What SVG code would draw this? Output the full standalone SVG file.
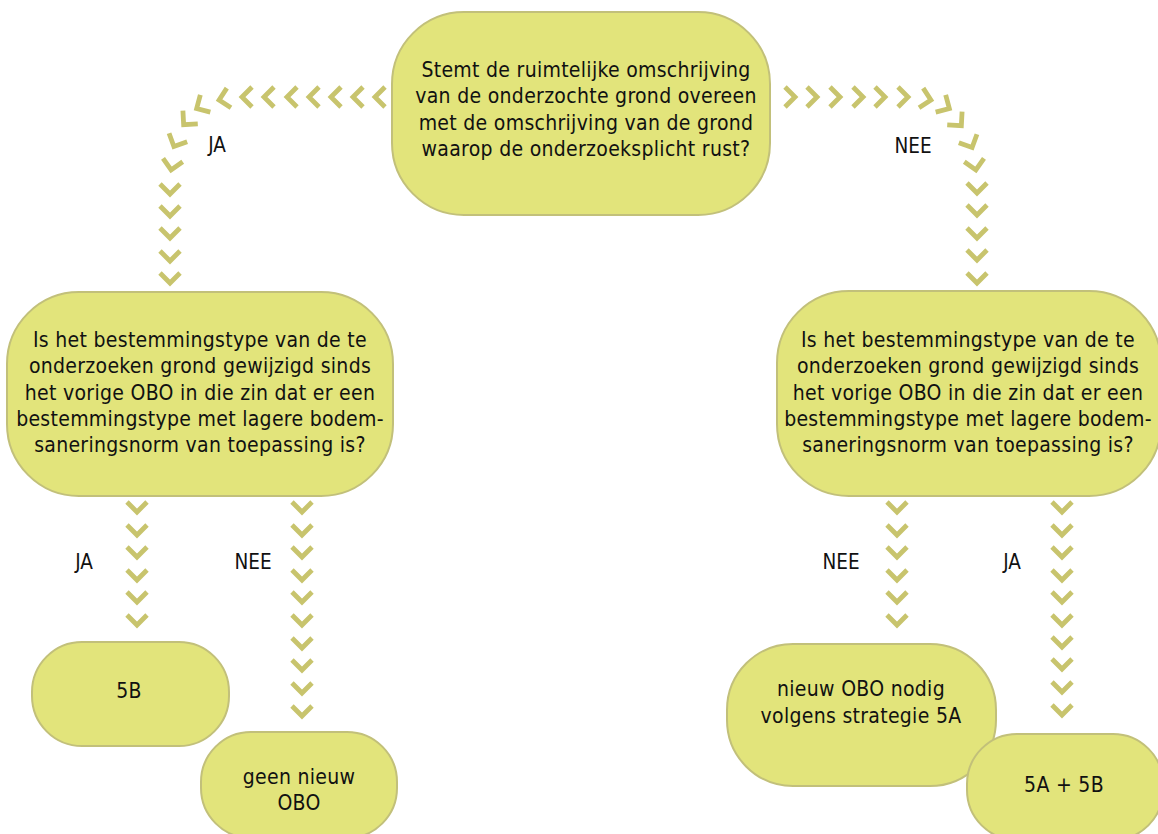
<svg xmlns="http://www.w3.org/2000/svg" xmlns:xlink="http://www.w3.org/1999/xlink" width="1158" height="834" viewBox="0 0 1158 834">
<style>
.node{fill:#e2e47b;stroke:#c2c07a;stroke-width:2}
.t{font-family:"DejaVu Sans Condensed","DejaVu Sans","Liberation Sans",sans-serif;font-stretch:condensed;font-size:21px;fill:#111;text-anchor:middle;letter-spacing:0.3px}
.lbl{font-family:"DejaVu Sans Condensed","DejaVu Sans","Liberation Sans",sans-serif;font-stretch:condensed;font-size:20.5px;fill:#111;text-anchor:middle}
</style>
<defs>
<path id="chev" d="M-10,-5 L0,5 L10,-5" fill="none" stroke="#c8c46d" stroke-width="4.8" stroke-linejoin="miter"/>
</defs>
<rect width="1158" height="834" fill="#ffffff"/>

<g id="connectors">
  <g id="c-top-ja">
    <use xlink:href="#chev" transform="translate(380,97) rotate(90)"/>
    <use xlink:href="#chev" transform="translate(358,97) rotate(90)"/>
    <use xlink:href="#chev" transform="translate(336,97) rotate(90)"/>
    <use xlink:href="#chev" transform="translate(314,97) rotate(90)"/>
    <use xlink:href="#chev" transform="translate(292,97) rotate(90)"/>
    <use xlink:href="#chev" transform="translate(269,97) rotate(90)"/>
    <use xlink:href="#chev" transform="translate(247,97) rotate(90)"/>
    <use xlink:href="#chev" transform="translate(224,99) rotate(78)"/>
    <use xlink:href="#chev" transform="translate(201,106) rotate(60)"/>
    <use xlink:href="#chev" transform="translate(187,121) rotate(42)"/>
    <use xlink:href="#chev" transform="translate(176,142) rotate(25)"/>
    <use xlink:href="#chev" transform="translate(172,165) rotate(10)"/>
    <use xlink:href="#chev" transform="translate(170,189)"/>
    <use xlink:href="#chev" transform="translate(170,211)"/>
    <use xlink:href="#chev" transform="translate(170,233)"/>
    <use xlink:href="#chev" transform="translate(170,256)"/>
    <use xlink:href="#chev" transform="translate(170,278)"/>
    <text class="lbl" x="217" y="152">JA</text>
  </g>
  <g id="c-top-nee">
    <use xlink:href="#chev" transform="translate(790,97) rotate(-90)"/>
    <use xlink:href="#chev" transform="translate(812,97) rotate(-90)"/>
    <use xlink:href="#chev" transform="translate(835,97) rotate(-90)"/>
    <use xlink:href="#chev" transform="translate(858,97) rotate(-90)"/>
    <use xlink:href="#chev" transform="translate(880,97) rotate(-90)"/>
    <use xlink:href="#chev" transform="translate(903,97) rotate(-90)"/>
    <use xlink:href="#chev" transform="translate(926,99) rotate(-78)"/>
    <use xlink:href="#chev" transform="translate(945,106) rotate(-60)"/>
    <use xlink:href="#chev" transform="translate(958,122) rotate(-42)"/>
    <use xlink:href="#chev" transform="translate(970,143) rotate(-25)"/>
    <use xlink:href="#chev" transform="translate(975,165) rotate(-10)"/>
    <use xlink:href="#chev" transform="translate(977,188)"/>
    <use xlink:href="#chev" transform="translate(977,210)"/>
    <use xlink:href="#chev" transform="translate(977,233)"/>
    <use xlink:href="#chev" transform="translate(977,255)"/>
    <use xlink:href="#chev" transform="translate(977,278)"/>
    <text class="lbl" x="913" y="153">NEE</text>
  </g>
  <g id="c-left-ja">
    <use xlink:href="#chev" transform="translate(137,507)"/>
    <use xlink:href="#chev" transform="translate(137,530)"/>
    <use xlink:href="#chev" transform="translate(137,552)"/>
    <use xlink:href="#chev" transform="translate(137,575)"/>
    <use xlink:href="#chev" transform="translate(137,597)"/>
    <use xlink:href="#chev" transform="translate(137,620)"/>
    <text class="lbl" x="84" y="569">JA</text>
  </g>
  <g id="c-left-nee">
    <use xlink:href="#chev" transform="translate(302,507)"/>
    <use xlink:href="#chev" transform="translate(302,530)"/>
    <use xlink:href="#chev" transform="translate(302,552)"/>
    <use xlink:href="#chev" transform="translate(302,575)"/>
    <use xlink:href="#chev" transform="translate(302,597)"/>
    <use xlink:href="#chev" transform="translate(302,620)"/>
    <use xlink:href="#chev" transform="translate(302,643)"/>
    <use xlink:href="#chev" transform="translate(302,665)"/>
    <use xlink:href="#chev" transform="translate(302,688)"/>
    <use xlink:href="#chev" transform="translate(302,711)"/>
    <text class="lbl" x="253" y="569">NEE</text>
  </g>
  <g id="c-right-nee">
    <use xlink:href="#chev" transform="translate(897,507)"/>
    <use xlink:href="#chev" transform="translate(897,530)"/>
    <use xlink:href="#chev" transform="translate(897,552)"/>
    <use xlink:href="#chev" transform="translate(897,575)"/>
    <use xlink:href="#chev" transform="translate(897,597)"/>
    <use xlink:href="#chev" transform="translate(897,620)"/>
    <text class="lbl" x="841" y="569">NEE</text>
  </g>
  <g id="c-right-ja">
    <use xlink:href="#chev" transform="translate(1062,507)"/>
    <use xlink:href="#chev" transform="translate(1062,530)"/>
    <use xlink:href="#chev" transform="translate(1062,552)"/>
    <use xlink:href="#chev" transform="translate(1062,575)"/>
    <use xlink:href="#chev" transform="translate(1062,597)"/>
    <use xlink:href="#chev" transform="translate(1062,620)"/>
    <use xlink:href="#chev" transform="translate(1062,642)"/>
    <use xlink:href="#chev" transform="translate(1062,664)"/>
    <use xlink:href="#chev" transform="translate(1062,687)"/>
    <use xlink:href="#chev" transform="translate(1062,710)"/>
    <text class="lbl" x="1012" y="569">JA</text>
  </g>
</g>

<g id="n-top">
  <rect class="node" x="392" y="12" width="378" height="203" rx="72" ry="72"/>
  <text class="t" x="586" y="77">Stemt de ruimtelijke omschrijving</text>
  <text class="t" x="586" y="103.3">van de onderzochte grond overeen</text>
  <text class="t" x="586" y="129.6">met de omschrijving van de grond</text>
  <text class="t" x="586" y="155.9">waarop de onderzoeksplicht rust?</text>
</g>

<g id="n-left">
  <rect class="node" x="7" y="292" width="386" height="204" rx="72" ry="72"/>
  <text class="t" x="200" y="347">Is het bestemmingstype van de te</text>
  <text class="t" x="200" y="373.3">onderzoeken grond gewijzigd sinds</text>
  <text class="t" x="200" y="399.6">het vorige OBO in die zin dat er een</text>
  <text class="t" x="200" y="425.9">bestemmingstype met lagere bodem-</text>
  <text class="t" x="200" y="452.2">saneringsnorm van toepassing is?</text>
</g>

<g id="n-right">
  <rect class="node" x="777" y="291" width="384" height="205" rx="72" ry="72"/>
  <text class="t" x="968" y="347">Is het bestemmingstype van de te</text>
  <text class="t" x="968" y="373.3">onderzoeken grond gewijzigd sinds</text>
  <text class="t" x="968" y="399.6">het vorige OBO in die zin dat er een</text>
  <text class="t" x="968" y="425.9">bestemmingstype met lagere bodem-</text>
  <text class="t" x="968" y="452.2">saneringsnorm van toepassing is?</text>
</g>

<g id="n-5b">
  <rect class="node" x="32" y="642" width="197" height="104" rx="50" ry="50"/>
  <text class="t" x="129" y="698">5B</text>
</g>

<g id="n-geen">
  <rect class="node" x="201" y="732" width="196" height="106" rx="50" ry="50"/>
  <text class="t" x="299" y="784">geen nieuw</text>
  <text class="t" x="299" y="810">OBO</text>
</g>

<g id="n-nieuw">
  <rect class="node" x="727" y="644" width="269" height="142" rx="66" ry="66"/>
  <text class="t" x="861" y="696">nieuw OBO nodig</text>
  <text class="t" x="861" y="723">volgens strategie 5A</text>
</g>

<g id="n-5a5b">
  <rect class="node" x="967" y="734" width="196" height="106" rx="50" ry="50"/>
  <text class="t" x="1064" y="792">5A + 5B</text>
</g>
</svg>
